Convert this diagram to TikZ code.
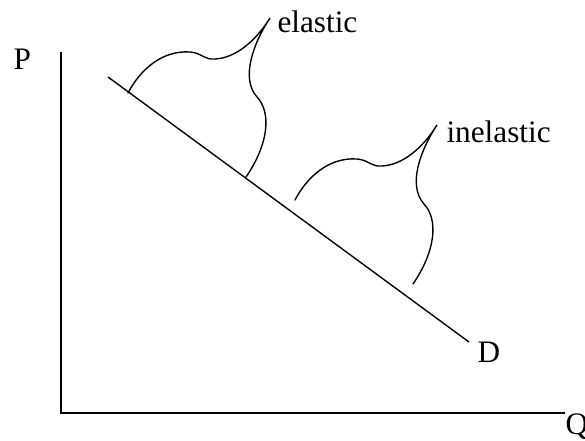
\documentclass[tikz,border=0pt]{standalone}
\usepackage{fontspec}
\setmainfont{Liberation Serif}
\usepackage{tikz}
\usetikzlibrary{calc,positioning}
\tikzset{
  axis/.style={line width=0.8pt,black},
  curve/.style={line width=0.55pt,black},
  brace/.style={line width=0.55pt,black,line cap=round},
  lbl/.style={anchor=base west,inner sep=0pt,font=\fontsize{12.5}{15}\selectfont}
}
\begin{document}
\begin{tikzpicture}[x=0.4pt,y=-0.4pt]
\useasboundingbox (0,0) rectangle (585,440);
% axes
\coordinate (O) at (61,413);
\coordinate (ptop) at (61,52);
\coordinate (qend) at (565,413);
\draw[axis] (ptop)--(O)--(qend);
\node[lbl] (plbl) at (13,69) {P};
\node[lbl] (qlbl) at (565,434) {Q};
% demand curve
\coordinate (dA) at (108,77);
\coordinate (dB) at (469,342);
\draw[curve] (dA)--(dB);
\node[lbl] (dlbl) at (477,362) {D};
% braces
\foreach \sx/\sy in {0/0,167/107}{
  \draw[brace,shift={(\sx,\sy)}] (128,93) .. controls (140,70) and (162,50) .. (190,52)
    .. controls (202,53) and (204,60) .. (215,59) .. controls (235,58) and (255,42) .. (270,18)
    .. controls (254,42) and (240,78) .. (257,97) .. controls (272,113) and (268,145) .. (246,177);
}
\node[lbl] (elastic) at (277,32) {elastic};
\node[lbl] (inelastic) at (446,142) {inelastic};
\end{tikzpicture}
\end{document}
